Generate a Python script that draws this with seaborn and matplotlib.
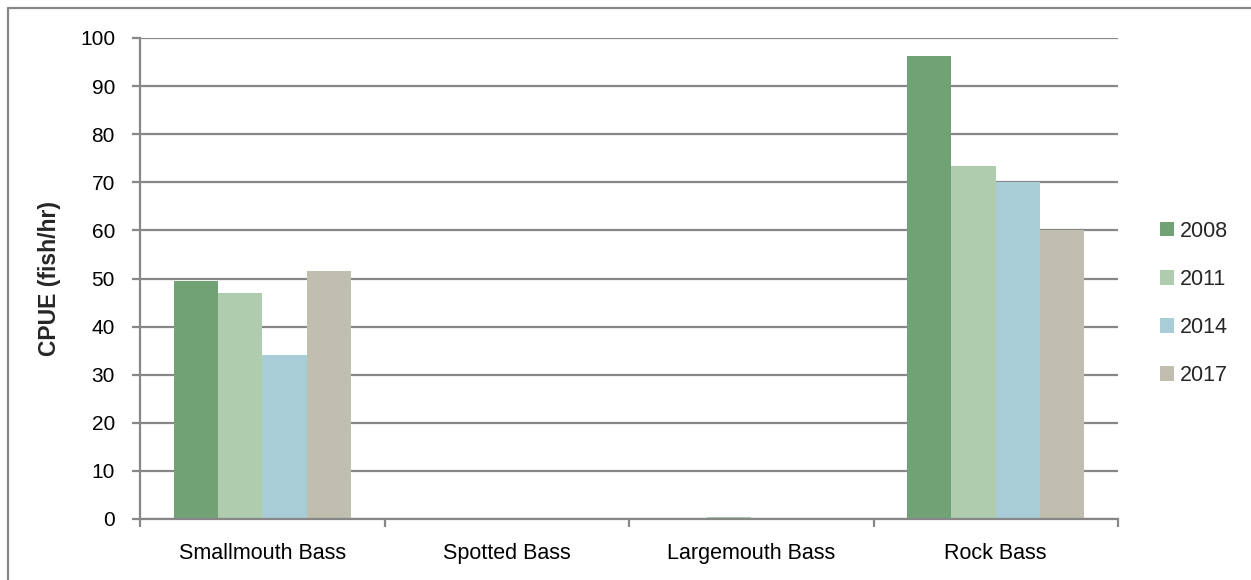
import matplotlib
matplotlib.use("Agg")
import matplotlib.pyplot as plt
from matplotlib.lines import Line2D
from matplotlib.ticker import FixedLocator
import seaborn as sns
import pandas as pd

# CPUE by species and survey year
species = ["Smallmouth Bass", "Spotted Bass", "Largemouth Bass", "Rock Bass"]
years = ["2008", "2011", "2014", "2017"]
cpue_2008 = [49.5, 0.0, 0.0, 96.2]
cpue_2011 = [47.0, 0.0, 0.5, 73.3]
cpue_2014 = [34.0, 0.0, 0.0, 70.0]
cpue_2017 = [51.5, 0.0, 0.0, 60.1]
y_ticks = list(range(0, 101, 10))

year_colors = ["#71a276", "#afccaf", "#a8cdd6", "#c0beae"]
grid_gray = "#878787"

rows = []
for yr, vals in zip(years, [cpue_2008, cpue_2011, cpue_2014, cpue_2017]):
    for sp, v in zip(species, vals):
        rows.append({"Species": sp, "Year": yr, "CPUE": v})
df = pd.DataFrame(rows)

sns.set_theme(style="white")
plt.rcParams["font.family"] = ["Liberation Sans", "DejaVu Sans"]

fig = plt.figure(figsize=(12.51, 5.80), dpi=100)
ax = fig.add_axes([140 / 1251, 1 - 519 / 580, (1118 - 140) / 1251, (519 - 38) / 580])

sns.barplot(data=df, x="Species", y="CPUE", hue="Year", order=species,
            hue_order=years, palette=year_colors, width=0.724, gap=0,
            linewidth=0, saturation=1, ax=ax, legend=True)

ax.set_xlim(-0.5, len(species) - 0.5)
ax.set_ylim(0, 100)
ax.set_yticks(y_ticks)
ax.yaxis.grid(True, color=grid_gray, linewidth=1.6)
ax.set_axisbelow(True)

for side in ["top", "right"]:
    ax.spines[side].set_visible(False)
for side in ["left", "bottom"]:
    ax.spines[side].set_color(grid_gray)
    ax.spines[side].set_linewidth(1.6)

ax.tick_params(axis="y", which="major", direction="out", length=6, width=1.6,
               color=grid_gray, labelsize=15, pad=12, labelcolor="black", left=True)
ax.tick_params(axis="x", which="major", length=0, labelsize=15.5, pad=17,
               labelcolor="black")
ax.xaxis.set_minor_locator(FixedLocator([i - 0.5 for i in range(len(species) + 1)]))
ax.tick_params(axis="x", which="minor", direction="out", length=6, width=1.6,
               color=grid_gray, bottom=True)

ax.set_xlabel("")
ax.set_ylabel("CPUE (fish/hr)", fontsize=16.5, fontweight="bold", labelpad=13.5)

handles, labels = ax.get_legend_handles_labels()
ax.legend(handles, labels, loc="center left", bbox_to_anchor=(1.034, 0.448),
          frameon=False, fontsize=15.5, handlelength=0.65, handleheight=0.65,
          handletextpad=0.3, labelspacing=1.26, borderaxespad=0)

# outer frame of the chart area
fig.add_artist(Line2D([8 / 1251, 1.0], [1 - 7.5 / 580, 1 - 7.5 / 580],
                      transform=fig.transFigure, color=grid_gray, linewidth=1.6))
fig.add_artist(Line2D([8 / 1251, 8 / 1251], [0.0, 1 - 7.5 / 580],
                      transform=fig.transFigure, color=grid_gray, linewidth=1.6))

fig.savefig("out.png", dpi=100)
